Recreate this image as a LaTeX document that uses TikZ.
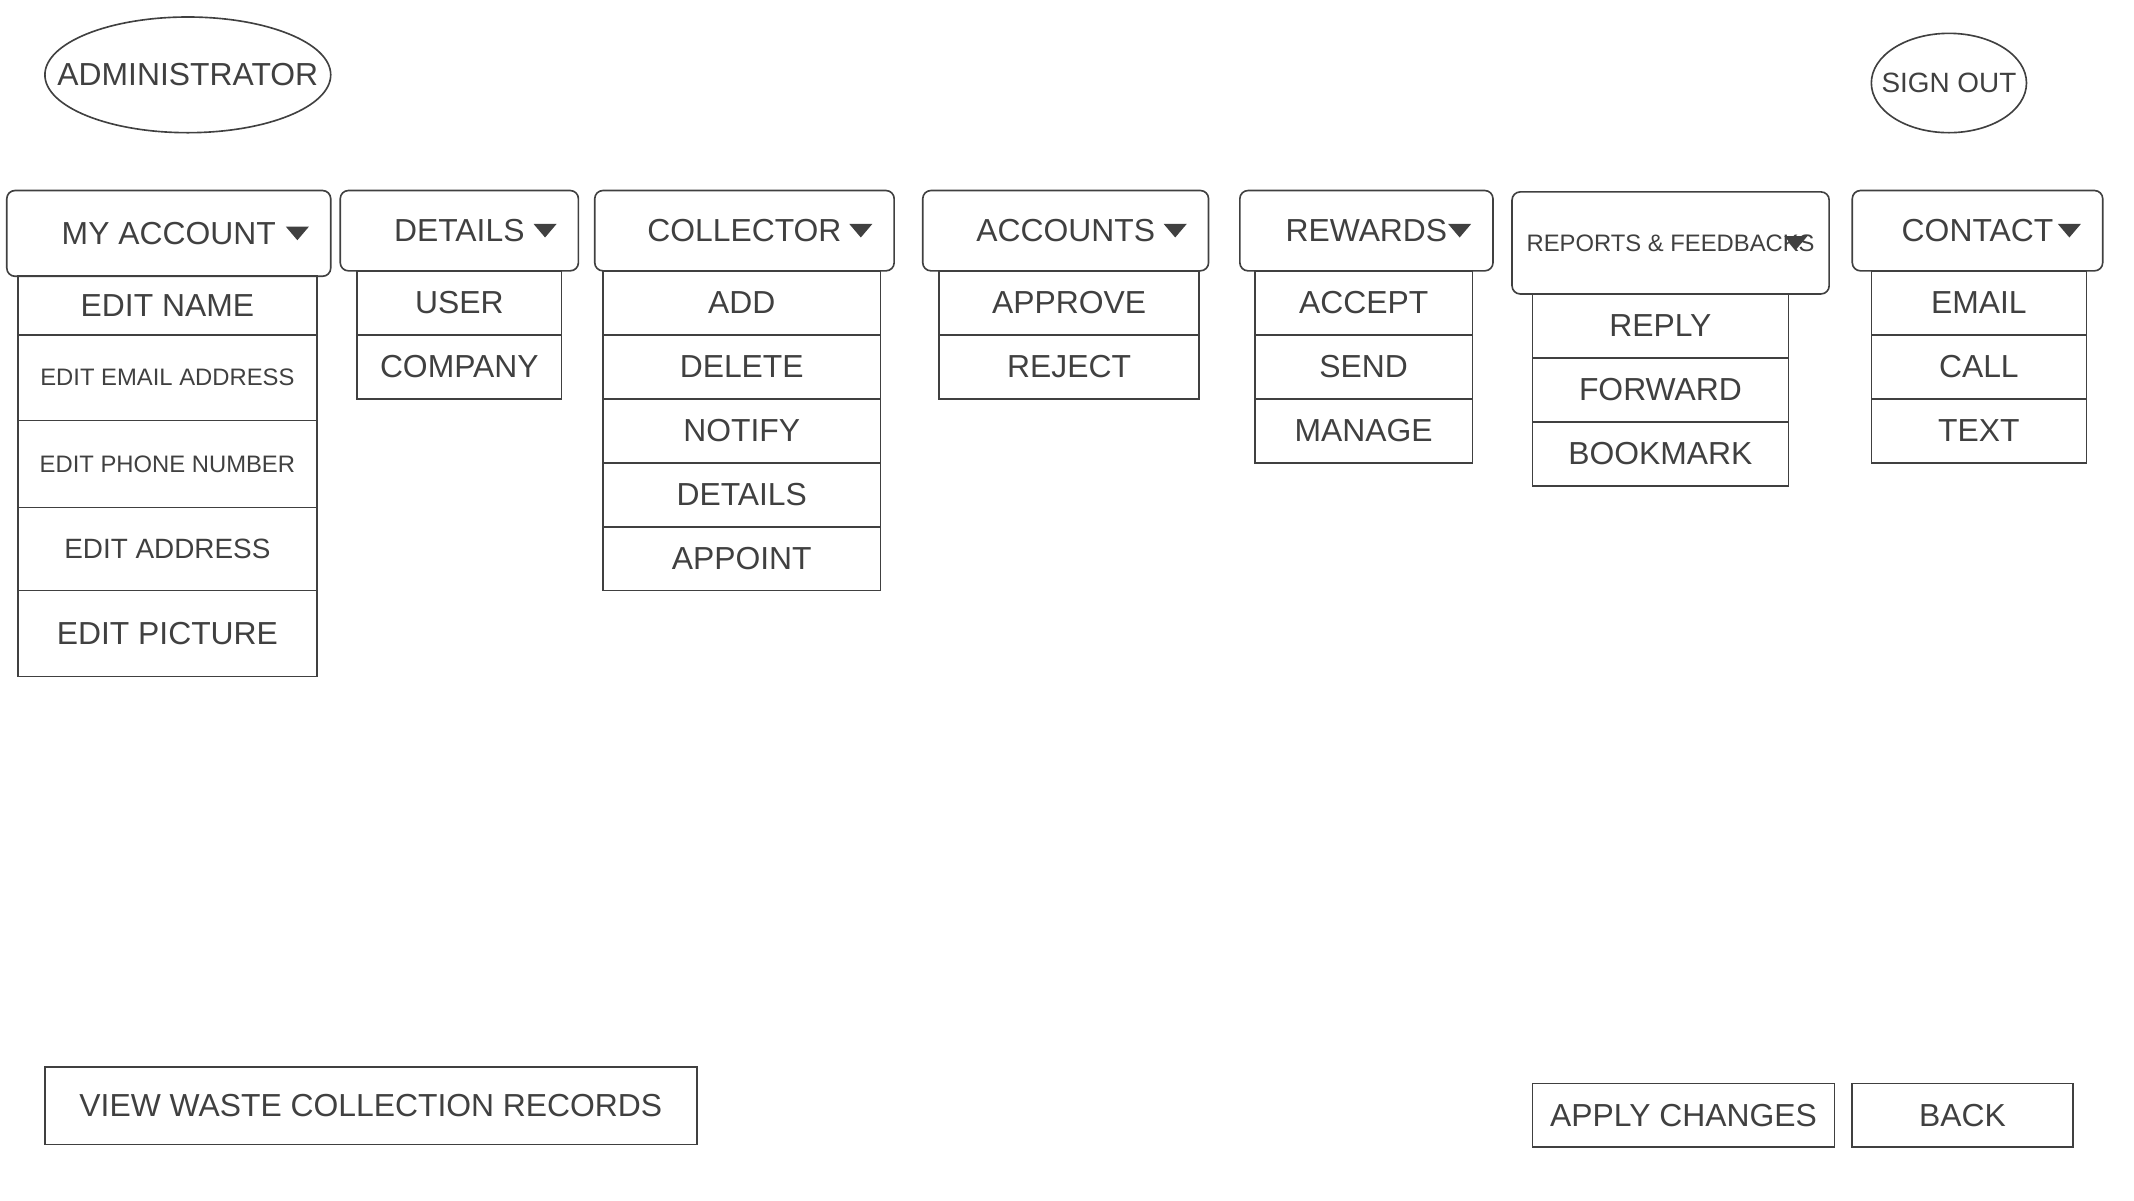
\documentclass[tikz,border=0pt]{standalone}
\usepackage{fontspec}
\setmainfont{Liberation Sans}
\usetikzlibrary{shapes.geometric, positioning}
\definecolor{ink}{HTML}{404040}
\newcommand{\bigtext}{\fontsize{23.4}{27}\selectfont}
\newcommand{\midtext}{\fontsize{20.5}{24}\selectfont}
\newcommand{\smalltext}{\fontsize{17.5}{21}\selectfont}
\tikzstyle{role} = [ellipse, draw=ink, inner sep=0pt]
\tikzstyle{rolename} = [text=ink, inner sep=0pt, font=\bigtext]
\tikzstyle{menu} = [rectangle, rounded corners=6pt, draw=ink, text=ink, minimum height=59pt, inner sep=0pt, outer sep=0pt, font=\bigtext]
\tikzstyle{entry} = [rectangle, draw=ink, text=ink, minimum height=47pt, inner sep=0pt, outer sep=0pt, font=\bigtext]
\tikzstyle{button} = [rectangle, draw=ink, text=ink, minimum height=47pt, inner sep=0pt, outer sep=0pt, font=\bigtext]
\tikzstyle{drop} = [fill=ink]

\begin{document}
\begin{tikzpicture}[x=1pt, y=-1pt, line width=1.2pt, node distance=0pt]
		\useasboundingbox (0,0) rectangle (1568,882);
		\node (admin) [role, minimum width=210pt, minimum height=85pt, label={[rolename]center:ADMINISTRATOR}] at (138,55) {};
		\node (signout) [role, minimum width=114pt, minimum height=73pt, label={[rolename, font=\midtext]center:SIGN OUT}] at (1432,61) {};

		% menu bar
		\node (acc) [menu, minimum width=238pt, minimum height=63pt] at (124,171.5) {MY ACCOUNT};
		\node (det) [menu, minimum width=175pt] at (337.5,169.5) {DETAILS};
		\node (coll) [menu, minimum width=220pt] at (547,169.5) {COLLECTOR};
		\node (accts) [menu, minimum width=210pt] at (783,169.5) {ACCOUNTS};
		\node (rew) [menu, minimum width=186pt] at (1004,169.5) {REWARDS};
		\node (rep) [menu, minimum width=233pt, minimum height=75pt, font=\smalltext] at (1227.5,178.5) {REPORTS \& FEEDBACKS};
		\node (cont) [menu, minimum width=184pt] at (1453,169.5) {CONTACT};

		% my account
		\node (accname) [entry, minimum width=220pt, minimum height=43pt, below=of acc, xshift=-1pt] {EDIT NAME};
		\node (accmail) [entry, minimum width=220pt, minimum height=63pt, font=\smalltext, below=of accname] {EDIT EMAIL ADDRESS};
		\node (accphone) [entry, minimum width=220pt, minimum height=64pt, font=\smalltext, below=of accmail] {EDIT PHONE NUMBER};
		\node (accaddr) [entry, minimum width=220pt, minimum height=61pt, font=\midtext, below=of accphone] {EDIT ADDRESS};
		\node (accpic) [entry, minimum width=220pt, minimum height=63pt, below=of accaddr] {EDIT PICTURE};

		% details
		\node (detuser) [entry, minimum width=150pt, below=of det] {USER};
		\node (detcomp) [entry, minimum width=150pt, below=of detuser] {COMPANY};

		% collector
		\node (colladd) [entry, minimum width=204pt, below=of coll, xshift=-2pt] {ADD};
		\node (colldel) [entry, minimum width=204pt, below=of colladd] {DELETE};
		\node (collnote) [entry, minimum width=204pt, below=of colldel] {NOTIFY};
		\node (colldet) [entry, minimum width=204pt, below=of collnote] {DETAILS};
		\node (collapp) [entry, minimum width=204pt, below=of colldet] {APPOINT};

		% accounts
		\node (acctsok) [entry, minimum width=191pt, below=of accts, xshift=2.5pt] {APPROVE};
		\node (acctsno) [entry, minimum width=191pt, below=of acctsok] {REJECT};

		% rewards
		\node (rewacc) [entry, minimum width=160pt, below=of rew, xshift=-2pt] {ACCEPT};
		\node (rewsend) [entry, minimum width=160pt, below=of rewacc] {SEND};
		\node (rewman) [entry, minimum width=160pt, below=of rewsend] {MANAGE};

		% reports
		\node (repreply) [entry, minimum width=188pt, below=of rep, xshift=-7.5pt] {REPLY};
		\node (repfwd) [entry, minimum width=188pt, below=of repreply] {FORWARD};
		\node (repmark) [entry, minimum width=188pt, below=of repfwd] {BOOKMARK};

		% contact
		\node (contmail) [entry, minimum width=158pt, below=of cont, xshift=1pt] {EMAIL};
		\node (contcall) [entry, minimum width=158pt, below=of contmail] {CALL};
		\node (conttext) [entry, minimum width=158pt, below=of contcall] {TEXT};

		% drop-down marks
		\foreach \m in {acc,det,coll,accts,rew,rep,cont}
			\fill [drop] ([xshift=-16pt,yshift=5pt]\m.east) -- ++(-17pt,0pt) -- ++(8.5pt,-10pt) -- cycle;

		% bottom buttons
		\node (records) [button, minimum width=479pt, minimum height=57pt] at (272.5,812.5) {VIEW WASTE COLLECTION RECORDS};
		\node (back) [button, minimum width=162pt] at (1442,819.5) {BACK};
		\node (apply) [button, minimum width=222pt, left=13pt of back] {APPLY CHANGES};
	  \end{tikzpicture}
\end{document}
